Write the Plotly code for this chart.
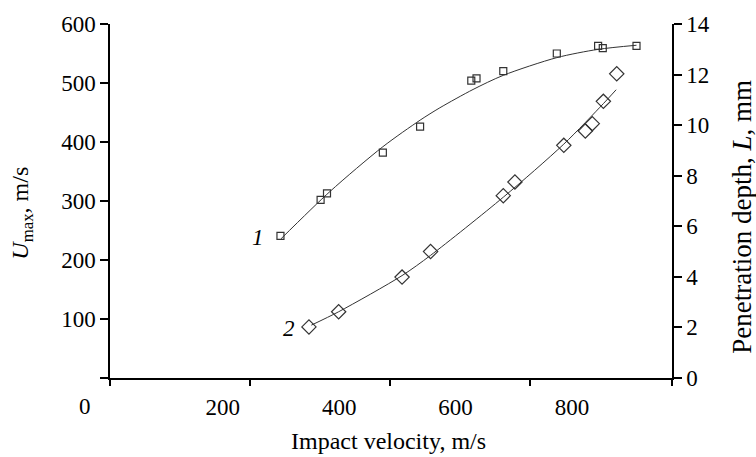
import plotly.graph_objects as go

# Curve 1: U_max (left axis) vs impact velocity
v1 = [299, 368, 379, 475, 539, 627, 636, 682, 774, 845, 853, 911]
u1 = [241, 302, 313, 382, 426, 504, 508, 520, 550, 563, 559, 563]
# fitted line 1
v1_fit = [300, 384, 475, 539, 573, 630, 682, 774, 845, 911]
u1_fit = [236, 316, 392, 437, 458, 489, 513, 543, 557, 564]

# Curve 2: penetration depth L (right axis) vs impact velocity
v2 = [348, 399, 508, 557, 682, 702, 786, 823, 835, 854, 877]
l2 = [2.02, 2.62, 3.99, 5.0, 7.21, 7.75, 9.2, 9.77, 10.06, 10.94, 12.03]
# fitted line 2
v2_fit = [352, 399, 508, 557, 682, 786, 854, 876]
l2_fit = [2.09, 2.62, 4.05, 4.85, 7.15, 9.25, 10.85, 11.40]

x_label_vals = [200, 400, 600, 800]
x_mark_vals = [6, 246, 487, 728, 972]
y_left_vals = [0, 100, 200, 300, 400, 500, 600]
y_left_text = ["", "100", "200", "300", "400", "500", "600"]
y_right_vals = [0, 2, 4, 6, 8, 10, 12, 14]

FONT = "Liberation Serif, Times New Roman, Times, serif"
C = "#333333"

fig = go.Figure()
fig.add_trace(go.Scatter(x=v1_fit, y=u1_fit, mode="lines",
                         line=dict(color=C, width=1, shape="spline", smoothing=0.8),
                         showlegend=False, hoverinfo="skip"))
fig.add_trace(go.Scatter(x=v1, y=u1, mode="markers",
                         marker=dict(symbol="square-open", size=7, color=C, line=dict(width=1.2)),
                         showlegend=False))
fig.add_trace(go.Scatter(x=v2_fit, y=l2_fit, mode="lines",
                         line=dict(color=C, width=1, shape="spline", smoothing=0.8),
                         yaxis="y2", showlegend=False, hoverinfo="skip"))
fig.add_trace(go.Scatter(x=v2, y=l2, mode="markers",
                         marker=dict(symbol="diamond-open", size=11, color=C, line=dict(width=1.2)),
                         yaxis="y2", showlegend=False))
# invisible trace to activate tick-mark x axis
fig.add_trace(go.Scatter(x=[6], y=[0], xaxis="x2", mode="markers", marker=dict(opacity=0),
                         showlegend=False, hoverinfo="skip"))

rng = [6, 972]
fig.update_layout(
    width=756, height=457,
    margin=dict(l=110, r=84, t=18, b=79),
    paper_bgcolor="white", plot_bgcolor="white",
    font=dict(family=FONT, size=23, color="black"),
    xaxis=dict(range=rng, tickvals=x_label_vals, ticks="", showline=True, linecolor="black",
               linewidth=1.5, showgrid=False, zeroline=False, ticklabelstandoff=8),
    xaxis2=dict(range=rng, overlaying="x", side="bottom", tickvals=x_mark_vals, ticks="outside",
                ticklen=7, tickwidth=1.5, tickcolor="black", showticklabels=False,
                showline=False, showgrid=False, zeroline=False),
    yaxis=dict(range=[0, 600], tickvals=y_left_vals, ticktext=y_left_text, ticks="outside",
               ticklen=8, tickwidth=1.5, tickcolor="black", showline=True, linecolor="black",
               linewidth=1.5, showgrid=False, zeroline=False),
    yaxis2=dict(range=[0, 14], tickvals=y_right_vals, overlaying="y", side="right", ticks="outside",
                ticklen=8, tickwidth=1.5, tickcolor="black", showline=True, linecolor="black",
                linewidth=1.5, showgrid=False, zeroline=False),
)

ann = [
    dict(text="<i>U</i><sub>max</sub>, m/s", x=-0.1566, y=0.467, textangle=-90, font=dict(size=24)),
    dict(text="Penetration depth, <i>L</i>, mm", x=1.1246, y=0.4556, textangle=-90, font=dict(size=27)),
    dict(text="Impact velocity, m/s", x=0.4964, y=-0.178, font=dict(size=24)),
    dict(text="0", x=-0.0445, y=-0.0806, font=dict(size=23)),
]
for a in ann:
    fig.add_annotation(xref="paper", yref="paper", showarrow=False, xanchor="center", yanchor="middle", **a)

fig.add_annotation(x=260, y=238, xref="x", yref="y", text="<i>1</i>", showarrow=False,
                   font=dict(size=23))
fig.add_annotation(x=314, y=1.94, xref="x", yref="y2", text="<i>2</i>", showarrow=False,
                   font=dict(size=23))

fig.write_html("out.html")
